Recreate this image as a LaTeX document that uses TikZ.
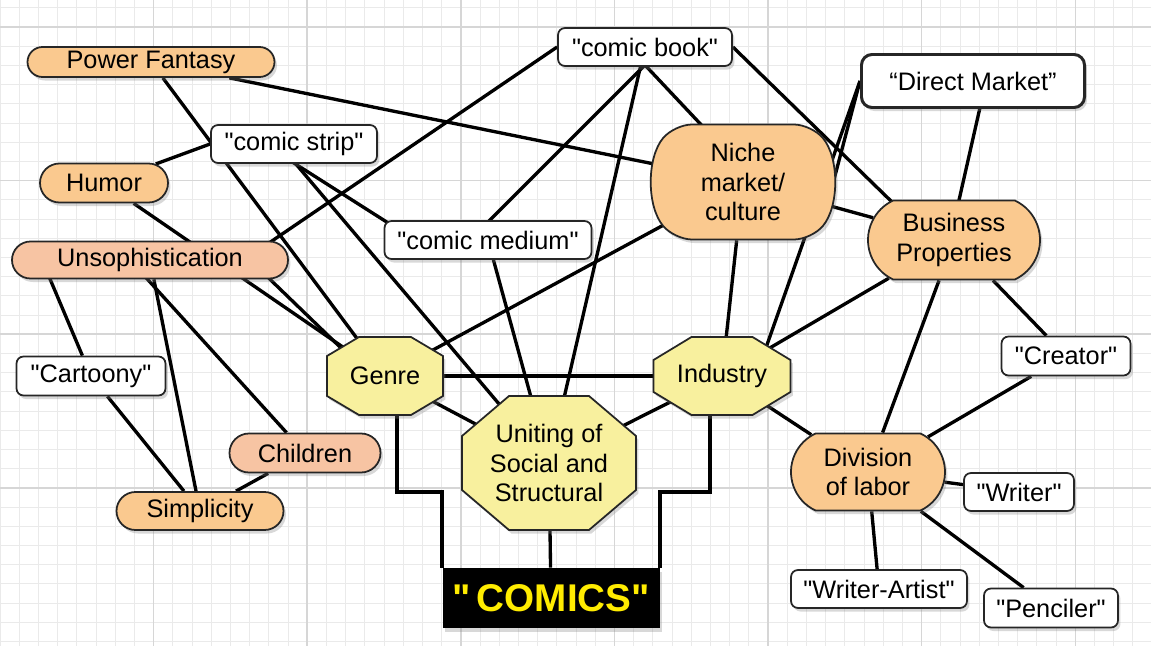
\documentclass[tikz,border=0pt]{standalone}
\usepackage{fontspec}
\setmainfont{Liberation Sans}[Ligatures=TeXOff]
\usetikzlibrary{shapes.misc,shadows}
\definecolor{pfill}{RGB}{250,201,143}
\definecolor{sfill}{RGB}{247,196,163}
\definecolor{ofill}{RGB}{248,240,158}
\definecolor{cyellow}{RGB}{255,236,0}
\definecolor{gminor}{RGB}{234,234,234}
\definecolor{gmajor}{RGB}{214,214,214}
\pgfdeclarelayer{grid}
\pgfdeclarelayer{edges}
\pgfdeclarelayer{octo}
\pgfsetlayers{grid,edges,octo,main}
\newcommand{\drawocto}[3]{%
  \path[octfill] ([shift={(#2,0)}]#1.north west) -- ([shift={(-#2,0)}]#1.north east)
    -- ([shift={(0,#3)}]#1.north east) -- ([shift={(0,-#3)}]#1.south east)
    -- ([shift={(-#2,0)}]#1.south east) -- ([shift={(#2,0)}]#1.south west)
    -- ([shift={(0,-#3)}]#1.south west) -- ([shift={(0,#3)}]#1.north west) -- cycle;}

\begin{document}
\begin{tikzpicture}[x=0.2mm,y=-0.2mm,
  font=\fontsize{14.4}{17}\selectfont,
  dropsh/.style={drop shadow={shadow xshift=1.4pt,shadow yshift=-2pt,opacity=.3}},
  pill/.style={rounded rectangle,draw=black!85,line width=1pt,fill=pfill,inner sep=0pt,dropsh},
  salmonpill/.style={pill,fill=sfill},
  blob/.style={pill,rounded rectangle arc length=#1,align=center},
  quotebox/.style={rectangle,rounded corners=4pt,draw=black!85,line width=1pt,fill=white,inner sep=0pt,dropsh},
  octnode/.style={rectangle,inner sep=0pt,outer sep=0pt,align=center},
  octfill/.style={fill=ofill,draw=black!85,line width=1pt,dropsh},
  link/.style={line width=1.9pt,black}]
\useasboundingbox (0,0) rectangle (1151,646);
\begin{pgfonlayer}{grid}
\fill[white] (0,0) rectangle (1151,646);
\foreach \i in {0,...,59} \draw[gminor,line width=0.5pt] (\i*19.2,0) -- (\i*19.2,646);
\foreach \j in {0,...,33} \draw[gminor,line width=0.5pt] (0,7.8+\j*19.2) -- (1151,7.8+\j*19.2);
\foreach \i in {1,...,7} \draw[gmajor,line width=0.8pt] (\i*153.6,0) -- (\i*153.6,646);
\foreach \j in {0,...,3} \draw[gmajor,line width=0.8pt] (0,27+\j*153.6) -- (1151,27+\j*153.6);
\end{pgfonlayer}

\node[pill,minimum width=49.4mm,minimum height=6mm] (pf) at (151,62) {Power Fantasy};
\node[pill,minimum width=25.6mm,minimum height=7.8mm] (humor) at (104,183) {Humor};
\node[salmonpill,minimum width=55.2mm,minimum height=7.4mm] (unsoph) at (150,260) {Unsophistication};
\node[salmonpill,minimum width=30.2mm,minimum height=7.8mm] (children) at (305,453) {Children};
\node[pill,minimum width=33.4mm,minimum height=7.6mm] (simplicity) at (200,511) {Simplicity};
\node[quotebox,minimum width=33.2mm,minimum height=7.6mm] (strip) at (294,144) {"comic strip"};
\node[quotebox,minimum width=34.8mm,minimum height=7.6mm] (book) at (645,47) {"comic book"};
\node[quotebox,minimum width=41.4mm,minimum height=7.6mm] (medium) at (488,240) {"comic medium"};
\node[quotebox,minimum width=29.8mm,minimum height=7.8mm] (cartoony) at (91,376) {"Cartoony"};
\node[quotebox,rounded corners=6pt,line width=1.7pt,minimum width=44.6mm,minimum height=10.6mm] (direct) at (973,81) {“Direct Market”};
\node[blob=80,rounded corners=10pt,minimum width=26.6mm,minimum height=23mm] (niche) at (743,182) {Niche\\market/\\culture};
\node[blob=130,minimum width=34.4mm,minimum height=15.8mm] (business) at (954,240) {Business\\Properties};
\node[blob=130,minimum width=30.8mm,minimum height=15.4mm] (division) at (868,472) {Division\\of labor};
\node[quotebox,minimum width=25.8mm,minimum height=7.8mm] (creator) at (1066,356) {"Creator"};
\node[quotebox,minimum width=22mm,minimum height=7.6mm] (writer) at (1019,492) {"Writer"};
\node[quotebox,minimum width=35.2mm,minimum height=7.6mm] (writerartist) at (879,589) {"Writer-Artist"};
\node[quotebox,minimum width=26.8mm,minimum height=7.8mm] (penciler) at (1051,608) {"Penciler"};
\node[octnode,minimum width=23.2mm,minimum height=15.6mm] (genre) at (385,376) {Genre};
\node[octnode,minimum width=27.4mm,minimum height=15.6mm] (industry) at (722,376) {Industry};
\node[octnode,minimum width=34.8mm,minimum height=26.8mm] (uniting) at (549,463) {Uniting of\\Social and\\Structural};
\node[rectangle,fill=black,inner sep=0pt,minimum width=43.4mm,minimum height=12mm,text=cyellow,
  font=\bfseries\fontsize{22}{26}\selectfont,dropsh] (comics) at (551,598) {"\,COMICS"};

\begin{pgfonlayer}{octo}
\drawocto{genre}{32}{19}
\drawocto{industry}{38}{23}
\drawocto{uniting}{47}{40}
\end{pgfonlayer}

\begin{pgfonlayer}{edges}
\draw[link] (pf) -- (genre.center);
\draw[link] (pf) -- (niche);
\draw[link] (niche) -- (business);
\draw[link] (humor) -- (strip.west);
\draw[link] (humor) -- (genre.center);
\draw[link] ([shift={(94,0)}]unsoph.center) -- (book.west);
\draw[link] ([shift={(-108,0)}]unsoph.center) -- (cartoony);
\draw[link] (unsoph) -- (simplicity);
\draw[link] ([shift={(-20,0)}]unsoph.center) -- (children);
\draw[link] ([shift={(100,0)}]unsoph.center) -- ([shift={(-15,0)}]genre.center);
\draw[link] ([shift={(-15,0)}]strip.center) -- (uniting.center);
\draw[link] ([shift={(-30,0)}]strip.center) -- ([shift={(-73,0)}]medium.center);
\draw[link] ([shift={(18,0)}]book.center) -- ([shift={(-18,0)}]medium.center);
\draw[link] (book) -- (uniting.center);
\draw[link] ([shift={(-17,0)}]book.center) -- ([shift={(12,0)}]niche.center);
\draw[link] (book.east) -- ([shift={(-23,0)}]business.center);
\draw[link] (genre.center) -- (niche);
\draw[link] (genre.center) -- (industry.center);
\draw[link] (genre.center) -- (uniting.center);
\draw[link] ([shift={(12,0)}]genre.south) -- ++(0,77) -| (comics.north west);
\draw[link] ([shift={(-12,0)}]industry.south) -- ++(0,77) -| (comics.north east);
\draw[link] (uniting.center) -- (comics);
\draw[link] (medium) -- (uniting.center);
\draw[link] (uniting.center) -- (industry.center);
\draw[link] (niche) -- (industry.center);
\draw[link] (direct.west) -- (niche.east);
\draw[link] (direct.west) -- ([shift={(34,0)}]industry.center);
\draw[link] ([shift={(13,0)}]direct.center) -- ([shift={(-4,0)}]business.center);
\draw[link] (industry.center) -- (business);
\draw[link] (industry.center) -- (division);
\draw[link] (business) -- (division);
\draw[link] (business) -- (creator);
\draw[link] (division) -- (creator);
\draw[link] (division) -- (writer);
\draw[link] (division) -- (writerartist);
\draw[link] (division) -- (penciler);
\draw[link] (cartoony) -- (simplicity);
\draw[link] (children) -- (simplicity);
\end{pgfonlayer}
\end{tikzpicture}
\end{document}
